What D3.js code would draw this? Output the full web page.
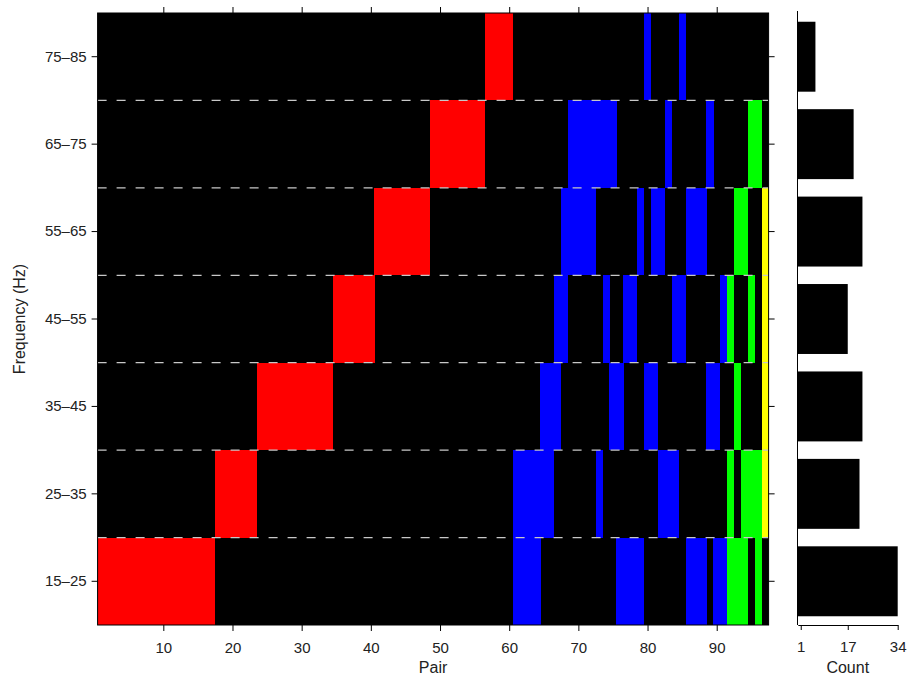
<!DOCTYPE html>
<html>
<head>
<meta charset="utf-8">
<script src="https://cdn.jsdelivr.net/npm/d3@7"></script>
<style>
  html, body { margin: 0; padding: 0; background: #fff; }
  svg { display: block; }
  text { font-family: "Liberation Sans", Arial, Helvetica, sans-serif; }
</style>
</head>
<body>
<svg id="chart" width="908" height="675"></svg>
<script>
// ---- data ----
const bands = ["15–25", "25–35", "35–45", "45–55", "55–65", "65–75", "75–85"];
const pairCount = 97;
const xTicks = [10, 20, 30, 40, 50, 60, 70, 80, 90];
const countTicks = [1, 17, 34];

// pairs significant in each frequency band
const sel_15_25 = [1,2,3,4,5,6,7,8,9,10,11,12,13,14,15,16,17,61,62,63,64,76,77,78,79,86,87,88,90,91,92,93,94,96];
const sel_25_35 = [18,19,20,21,22,23,61,62,63,64,65,66,73,82,83,84,92,94,95,96,97];
const sel_35_45 = [24,25,26,27,28,29,30,31,32,33,34,65,66,67,75,76,80,81,89,90,93,97];
const sel_45_55 = [35,36,37,38,39,40,67,68,74,77,78,84,85,91,92,95,97];
const sel_55_65 = [41,42,43,44,45,46,47,48,68,69,70,71,72,79,81,82,86,87,88,93,94,97];
const sel_65_75 = [49,50,51,52,53,54,55,56,69,70,71,72,73,74,75,83,89,95,96];
const sel_75_85 = [57,58,59,60,80,85];

// colour by number of bands in which a pair appears
const nBandColors = ["#000000", "#ff0000", "#0000ff", "#00ff00", "#ffff00"];

// ---- build ----
const bandSel = [sel_15_25, sel_25_35, sel_35_45, sel_45_55, sel_55_65, sel_65_75, sel_75_85];
const pairs = d3.range(1, pairCount + 1);
const nPerPair = new Map(pairs.map(p => [p, 0]));
bandSel.forEach(s => s.forEach(p => nPerPair.set(p, nPerPair.get(p) + 1)));
const cells = [];
bands.forEach((b, i) => bandSel[i].forEach(p => cells.push({band: b, pair: p, n: nPerPair.get(p)})));
const counts = bands.map((b, i) => ({band: b, count: bandSel[i].length}));

const svg = d3.select("#chart");
const L = 97.6, R = 768.6, T = 13, B = 625;
const FONT = '"Liberation Sans", Arial, sans-serif';

const x = d3.scaleLinear().domain([0.5, pairCount + 0.5]).range([L, R]);
const y = d3.scaleBand().domain(bands.slice().reverse()).range([T, B]).paddingInner(0).paddingOuter(0);
const color = d3.scaleOrdinal().domain([0, 1, 2, 3, 4]).range(nBandColors);

const main = svg.append("g");
main.append("rect").attr("x", L).attr("y", T).attr("width", R - L).attr("height", B - T).attr("fill", "#000");

main.selectAll("rect.cell").data(cells).join("rect")
  .attr("class", "cell")
  .attr("x", d => x(d.pair - 0.5))
  .attr("width", d => x(d.pair + 0.5) - x(d.pair - 0.5) + 0.3)
  .attr("y", d => y(d.band))
  .attr("height", y.bandwidth())
  .attr("fill", d => color(Math.min(d.n, 4)))
  .attr("shape-rendering", "crispEdges");

// dashed band separators
main.selectAll("line.sep").data(bands.slice(0, bands.length - 1)).join("line")
  .attr("class", "sep")
  .attr("x1", L).attr("x2", R)
  .attr("y1", d => y(d)).attr("y2", d => y(d))
  .attr("stroke", "#c8c8c8").attr("stroke-width", 1.3)
  .attr("stroke-dasharray", "9,10");

// frame
main.append("rect").attr("x", L).attr("y", T).attr("width", R - L).attr("height", B - T)
  .attr("fill", "none").attr("stroke", "#000").attr("stroke-width", 1);

function styleAxis(g) {
  g.select(".domain").remove();
  g.selectAll(".tick line").attr("stroke", "#000");
  g.selectAll(".tick text").attr("fill", "#222").attr("font-size", 15).attr("font-family", FONT);
}

main.append("g").attr("transform", `translate(0,${B})`)
  .call(d3.axisBottom(x).tickValues(xTicks).tickSize(6).tickPadding(11))
  .call(styleAxis);
main.append("g").attr("transform", `translate(0,${T})`)
  .call(d3.axisTop(x).tickValues(xTicks).tickSize(6).tickFormat(""))
  .call(styleAxis);
main.append("g").attr("transform", `translate(${L},0)`)
  .call(d3.axisLeft(y).tickSize(6).tickPadding(5))
  .call(styleAxis);
main.append("g").attr("transform", `translate(${R},0)`)
  .call(d3.axisRight(y).tickSize(6).tickFormat(""))
  .call(styleAxis);

svg.append("text").attr("x", (L + R) / 2).attr("y", 673)
  .attr("text-anchor", "middle").attr("font-size", 16).attr("fill", "#222").text("Pair");
svg.append("text").attr("transform", `translate(25,${(T + B) / 2}) rotate(-90)`)
  .attr("text-anchor", "middle").attr("font-size", 16).attr("fill", "#222").text("Frequency (Hz)");

// ---- right panel: counts ----
const cx = d3.scaleLinear().domain([0, 34]).range([797.8, 897.7]);
const cy = d3.scaleBand().domain(bands.slice().reverse()).range([T, B]).paddingInner(0.2).paddingOuter(0.1);
const side = svg.append("g");
side.selectAll("rect.bar").data(counts).join("rect")
  .attr("class", "bar")
  .attr("x", cx(0)).attr("width", d => cx(d.count) - cx(0))
  .attr("y", d => cy(d.band)).attr("height", cy.bandwidth())
  .attr("fill", "#000");
side.append("line").attr("x1", 797.5).attr("x2", 797.5).attr("y1", T - 2).attr("y2", B)
  .attr("stroke", "#000").attr("stroke-width", 1);
const cax = side.append("g").attr("transform", `translate(0,${B})`)
  .call(d3.axisBottom(cx).tickValues(countTicks).tickSize(5).tickSizeOuter(0).tickPadding(11));
cax.select(".domain").attr("stroke", "#000");
cax.selectAll(".tick text").attr("fill", "#222").attr("font-size", 15).attr("font-family", FONT);
svg.append("text").attr("x", cx(17)).attr("y", 673)
  .attr("text-anchor", "middle").attr("font-size", 16).attr("fill", "#222").text("Count");
</script>
</body>
</html>
